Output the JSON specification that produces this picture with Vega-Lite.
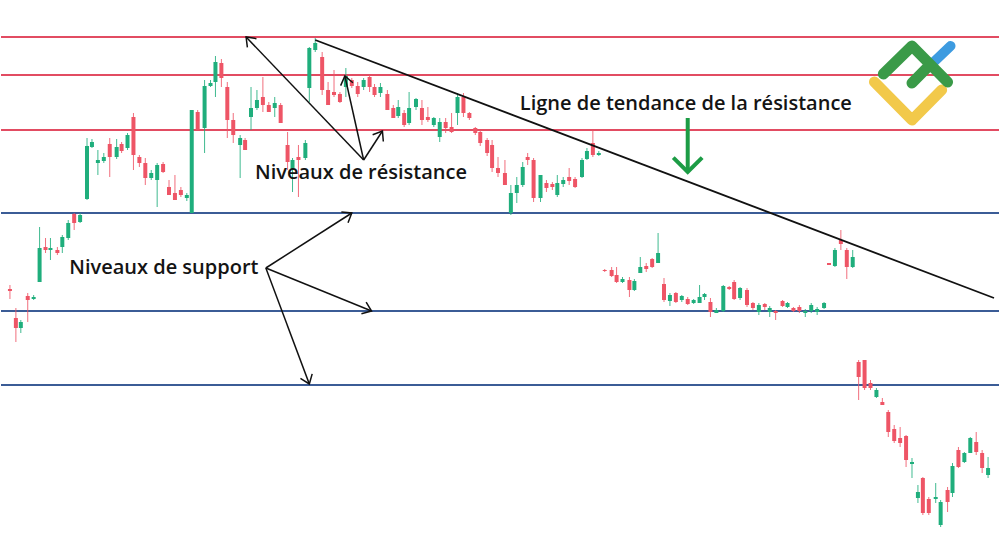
{
  "$schema": "https://vega.github.io/schema/vega-lite/v6.json",
  "width": 1000,
  "height": 536,
  "autosize": {"type": "fit", "contains": "padding"},
  "padding": 0,
  "background": "white",
  "config": {"view": {"stroke": null}},
  "resolve": {"scale": {"color": "independent"}},
  "datasets": {
    "candles": [
      {"t":4,"wt":285,"wb":299,"bt":289,"bb":291,"dir":"d"},
      {"t":10,"wt":308,"wb":342,"bt":318,"bb":328,"dir":"d"},
      {"t":15,"wt":320,"wb":333,"bt":322,"bb":328,"dir":"u"},
      {"t":22,"wt":293,"wb":322,"bt":296,"bb":300,"dir":"d"},
      {"t":28,"wt":295,"wb":300,"bt":297,"bb":299,"dir":"u"},
      {"t":34,"wt":227,"wb":282,"bt":248,"bb":282,"dir":"u"},
      {"t":40,"wt":238,"wb":253,"bt":247,"bb":250,"dir":"d"},
      {"t":45,"wt":238,"wb":260,"bt":248,"bb":250,"dir":"u"},
      {"t":52,"wt":247,"wb":255,"bt":250,"bb":253,"dir":"d"},
      {"t":57,"wt":235,"wb":253,"bt":237,"bb":247,"dir":"u"},
      {"t":63,"wt":220,"wb":240,"bt":223,"bb":238,"dir":"u"},
      {"t":69,"wt":213,"wb":230,"bt":214,"bb":223,"dir":"d"},
      {"t":75,"wt":213,"wb":223,"bt":215,"bb":222,"dir":"u"},
      {"t":82,"wt":138,"wb":200,"bt":146,"bb":199,"dir":"u"},
      {"t":87,"wt":139,"wb":148,"bt":142,"bb":147,"dir":"u"},
      {"t":93,"wt":150,"wb":175,"bt":160,"bb":163,"dir":"u"},
      {"t":99,"wt":153,"wb":163,"bt":157,"bb":161,"dir":"u"},
      {"t":105,"wt":138,"wb":177,"bt":144,"bb":157,"dir":"d"},
      {"t":112,"wt":139,"wb":159,"bt":147,"bb":157,"dir":"u"},
      {"t":117,"wt":142,"wb":153,"bt":144,"bb":151,"dir":"d"},
      {"t":123,"wt":133,"wb":150,"bt":135,"bb":148,"dir":"u"},
      {"t":129,"wt":113,"wb":170,"bt":117,"bb":155,"dir":"d"},
      {"t":135,"wt":155,"wb":167,"bt":157,"bb":163,"dir":"d"},
      {"t":141,"wt":158,"wb":185,"bt":163,"bb":178,"dir":"d"},
      {"t":147,"wt":170,"wb":180,"bt":173,"bb":178,"dir":"u"},
      {"t":153,"wt":163,"wb":207,"bt":165,"bb":180,"dir":"u"},
      {"t":159,"wt":162,"wb":173,"bt":164,"bb":172,"dir":"d"},
      {"t":165,"wt":180,"wb":195,"bt":187,"bb":195,"dir":"d"},
      {"t":171,"wt":175,"wb":200,"bt":193,"bb":200,"dir":"d"},
      {"t":177,"wt":187,"wb":197,"bt":190,"bb":195,"dir":"d"},
      {"t":183,"wt":193,"wb":201,"bt":195,"bb":198,"dir":"u"},
      {"t":188,"wt":110,"wb":213,"bt":110,"bb":213,"dir":"u"},
      {"t":194,"wt":110,"wb":130,"bt":112,"bb":130,"dir":"d"},
      {"t":201,"wt":80,"wb":153,"bt":86,"bb":128,"dir":"u"},
      {"t":207,"wt":80,"wb":87,"bt":83,"bb":86,"dir":"u"},
      {"t":212,"wt":56,"wb":97,"bt":62,"bb":82,"dir":"u"},
      {"t":218,"wt":59,"wb":87,"bt":63,"bb":78,"dir":"d"},
      {"t":224,"wt":82,"wb":138,"bt":87,"bb":120,"dir":"d"},
      {"t":230,"wt":113,"wb":143,"bt":120,"bb":135,"dir":"d"},
      {"t":237,"wt":135,"wb":178,"bt":138,"bb":145,"dir":"u"},
      {"t":242,"wt":138,"wb":150,"bt":140,"bb":150,"dir":"d"},
      {"t":248,"wt":87,"wb":130,"bt":108,"bb":117,"dir":"u"},
      {"t":254,"wt":90,"wb":110,"bt":100,"bb":108,"dir":"u"},
      {"t":260,"wt":77,"wb":112,"bt":97,"bb":105,"dir":"d"},
      {"t":266,"wt":102,"wb":112,"bt":105,"bb":112,"dir":"d"},
      {"t":272,"wt":97,"wb":117,"bt":103,"bb":108,"dir":"u"},
      {"t":278,"wt":103,"wb":123,"bt":105,"bb":123,"dir":"d"},
      {"t":285,"wt":132,"wb":170,"bt":145,"bb":162,"dir":"d"},
      {"t":290,"wt":158,"wb":192,"bt":160,"bb":170,"dir":"u"},
      {"t":296,"wt":145,"wb":197,"bt":157,"bb":160,"dir":"d"},
      {"t":303,"wt":140,"wb":160,"bt":143,"bb":158,"dir":"u"},
      {"t":307,"wt":47,"wb":102,"bt":48,"bb":88,"dir":"u"},
      {"t":313,"wt":38,"wb":52,"bt":43,"bb":50,"dir":"u"},
      {"t":320,"wt":52,"wb":95,"bt":57,"bb":90,"dir":"d"},
      {"t":326,"wt":82,"wb":105,"bt":90,"bb":105,"dir":"d"},
      {"t":332,"wt":70,"wb":97,"bt":92,"bb":95,"dir":"d"},
      {"t":338,"wt":92,"wb":103,"bt":94,"bb":102,"dir":"d"},
      {"t":344,"wt":68,"wb":97,"bt":76,"bb":87,"dir":"u"},
      {"t":350,"wt":78,"wb":88,"bt":80,"bb":86,"dir":"d"},
      {"t":356,"wt":82,"wb":97,"bt":86,"bb":94,"dir":"d"},
      {"t":362,"wt":78,"wb":90,"bt":80,"bb":87,"dir":"u"},
      {"t":368,"wt":75,"wb":92,"bt":77,"bb":87,"dir":"d"},
      {"t":373,"wt":84,"wb":97,"bt":87,"bb":95,"dir":"d"},
      {"t":379,"wt":83,"wb":97,"bt":87,"bb":93,"dir":"u"},
      {"t":386,"wt":90,"wb":110,"bt":94,"bb":110,"dir":"d"},
      {"t":392,"wt":105,"wb":118,"bt":108,"bb":118,"dir":"d"},
      {"t":397,"wt":100,"wb":118,"bt":107,"bb":116,"dir":"u"},
      {"t":403,"wt":110,"wb":127,"bt":113,"bb":125,"dir":"d"},
      {"t":408,"wt":92,"wb":125,"bt":108,"bb":123,"dir":"u"},
      {"t":415,"wt":98,"wb":110,"bt":99,"bb":107,"dir":"u"},
      {"t":421,"wt":100,"wb":125,"bt":108,"bb":120,"dir":"d"},
      {"t":427,"wt":107,"wb":122,"bt":117,"bb":120,"dir":"d"},
      {"t":433,"wt":117,"wb":127,"bt":118,"bb":125,"dir":"u"},
      {"t":439,"wt":118,"wb":142,"bt":122,"bb":137,"dir":"u"},
      {"t":445,"wt":118,"wb":133,"bt":122,"bb":128,"dir":"d"},
      {"t":451,"wt":113,"wb":133,"bt":127,"bb":132,"dir":"d"},
      {"t":457,"wt":93,"wb":125,"bt":97,"bb":113,"dir":"u"},
      {"t":463,"wt":93,"wb":117,"bt":97,"bb":113,"dir":"d"},
      {"t":469,"wt":112,"wb":120,"bt":113,"bb":118,"dir":"d"},
      {"t":475,"wt":127,"wb":135,"bt":128,"bb":133,"dir":"d"},
      {"t":480,"wt":130,"wb":146,"bt":132,"bb":143,"dir":"d"},
      {"t":487,"wt":138,"wb":156,"bt":140,"bb":153,"dir":"d"},
      {"t":492,"wt":140,"wb":172,"bt":145,"bb":168,"dir":"d"},
      {"t":498,"wt":157,"wb":177,"bt":168,"bb":173,"dir":"d"},
      {"t":505,"wt":160,"wb":185,"bt":173,"bb":185,"dir":"d"},
      {"t":511,"wt":185,"wb":215,"bt":193,"bb":213,"dir":"u"},
      {"t":517,"wt":177,"wb":203,"bt":185,"bb":193,"dir":"u"},
      {"t":523,"wt":162,"wb":187,"bt":167,"bb":185,"dir":"u"},
      {"t":528,"wt":153,"wb":165,"bt":157,"bb":160,"dir":"d"},
      {"t":534,"wt":158,"wb":202,"bt":160,"bb":198,"dir":"d"},
      {"t":541,"wt":175,"wb":202,"bt":175,"bb":198,"dir":"u"},
      {"t":547,"wt":180,"wb":192,"bt":183,"bb":188,"dir":"d"},
      {"t":553,"wt":182,"wb":190,"bt":184,"bb":187,"dir":"d"},
      {"t":558,"wt":175,"wb":197,"bt":183,"bb":195,"dir":"u"},
      {"t":564,"wt":177,"wb":187,"bt":180,"bb":184,"dir":"u"},
      {"t":570,"wt":168,"wb":185,"bt":177,"bb":181,"dir":"d"},
      {"t":576,"wt":177,"wb":188,"bt":179,"bb":187,"dir":"d"},
      {"t":583,"wt":158,"wb":178,"bt":160,"bb":177,"dir":"u"},
      {"t":588,"wt":148,"wb":160,"bt":151,"bb":159,"dir":"u"},
      {"t":594,"wt":130,"wb":157,"bt":143,"bb":155,"dir":"d"},
      {"t":600,"wt":151,"wb":156,"bt":153,"bb":155,"dir":"u"},
      {"t":606,"wt":269,"wb":272,"bt":270,"bb":271,"dir":"d"},
      {"t":613,"wt":267,"wb":277,"bt":270,"bb":276,"dir":"d"},
      {"t":618,"wt":267,"wb":283,"bt":275,"bb":282,"dir":"d"},
      {"t":624,"wt":277,"wb":283,"bt":279,"bb":282,"dir":"u"},
      {"t":631,"wt":277,"wb":297,"bt":280,"bb":290,"dir":"d"},
      {"t":636,"wt":279,"wb":291,"bt":281,"bb":290,"dir":"u"},
      {"t":642,"wt":257,"wb":273,"bt":267,"bb":273,"dir":"u"},
      {"t":648,"wt":263,"wb":272,"bt":266,"bb":269,"dir":"d"},
      {"t":654,"wt":258,"wb":268,"bt":259,"bb":267,"dir":"d"},
      {"t":660,"wt":233,"wb":263,"bt":253,"bb":263,"dir":"u"},
      {"t":666,"wt":278,"wb":302,"bt":284,"bb":300,"dir":"d"},
      {"t":672,"wt":293,"wb":306,"bt":295,"bb":301,"dir":"u"},
      {"t":678,"wt":292,"wb":303,"bt":293,"bb":302,"dir":"d"},
      {"t":684,"wt":295,"wb":302,"bt":296,"bb":300,"dir":"u"},
      {"t":690,"wt":297,"wb":305,"bt":299,"bb":304,"dir":"d"},
      {"t":696,"wt":299,"wb":304,"bt":300,"bb":303,"dir":"u"},
      {"t":702,"wt":285,"wb":303,"bt":297,"bb":303,"dir":"u"},
      {"t":707,"wt":293,"wb":300,"bt":294,"bb":297,"dir":"u"},
      {"t":713,"wt":298,"wb":317,"bt":302,"bb":312,"dir":"d"},
      {"t":719,"wt":308,"wb":313,"bt":310,"bb":313,"dir":"u"},
      {"t":726,"wt":285,"wb":312,"bt":286,"bb":311,"dir":"u"},
      {"t":732,"wt":286,"wb":290,"bt":287,"bb":289,"dir":"d"},
      {"t":737,"wt":280,"wb":300,"bt":282,"bb":299,"dir":"d"},
      {"t":743,"wt":287,"wb":300,"bt":288,"bb":298,"dir":"u"},
      {"t":750,"wt":288,"wb":307,"bt":290,"bb":305,"dir":"d"},
      {"t":756,"wt":302,"wb":310,"bt":303,"bb":308,"dir":"d"},
      {"t":762,"wt":303,"wb":315,"bt":305,"bb":312,"dir":"u"},
      {"t":768,"wt":303,"wb":310,"bt":304,"bb":307,"dir":"d"},
      {"t":773,"wt":306,"wb":317,"bt":308,"bb":312,"dir":"u"},
      {"t":779,"wt":310,"wb":320,"bt":311,"bb":313,"dir":"d"},
      {"t":786,"wt":300,"wb":307,"bt":301,"bb":306,"dir":"d"},
      {"t":791,"wt":302,"wb":308,"bt":303,"bb":307,"dir":"u"},
      {"t":797,"wt":307,"wb":312,"bt":308,"bb":311,"dir":"d"},
      {"t":803,"wt":305,"wb":313,"bt":307,"bb":311,"dir":"d"},
      {"t":809,"wt":309,"wb":317,"bt":311,"bb":313,"dir":"u"},
      {"t":815,"wt":303,"wb":313,"bt":305,"bb":311,"dir":"u"},
      {"t":821,"wt":307,"wb":315,"bt":309,"bb":312,"dir":"u"},
      {"t":828,"wt":302,"wb":309,"bt":303,"bb":308,"dir":"u"},
      {"t":833,"wt":263,"wb":265,"bt":263,"bb":265,"dir":"d"},
      {"t":839,"wt":248,"wb":267,"bt":250,"bb":266,"dir":"u"},
      {"t":845,"wt":230,"wb":250,"bt":240,"bb":244,"dir":"d"},
      {"t":851,"wt":248,"wb":279,"bt":250,"bb":267,"dir":"d"},
      {"t":857,"wt":250,"wb":268,"bt":257,"bb":267,"dir":"u"},
      {"t":863,"wt":360,"wb":400,"bt":362,"bb":377,"dir":"d"},
      {"t":869,"wt":360,"wb":390,"bt":360,"bb":388,"dir":"d"},
      {"t":875,"wt":380,"wb":390,"bt":383,"bb":388,"dir":"d"},
      {"t":881,"wt":388,"wb":398,"bt":390,"bb":397,"dir":"u"},
      {"t":887,"wt":398,"wb":405,"bt":402,"bb":405,"dir":"d"},
      {"t":893,"wt":410,"wb":437,"bt":412,"bb":432,"dir":"d"},
      {"t":899,"wt":425,"wb":443,"bt":429,"bb":441,"dir":"d"},
      {"t":905,"wt":427,"wb":447,"bt":438,"bb":443,"dir":"d"},
      {"t":911,"wt":435,"wb":467,"bt":436,"bb":460,"dir":"d"},
      {"t":917,"wt":458,"wb":478,"bt":462,"bb":464,"dir":"u"},
      {"t":923,"wt":485,"wb":503,"bt":492,"bb":498,"dir":"u"},
      {"t":928,"wt":477,"wb":515,"bt":478,"bb":513,"dir":"d"},
      {"t":934,"wt":497,"wb":515,"bt":499,"bb":513,"dir":"d"},
      {"t":941,"wt":483,"wb":503,"bt":497,"bb":499,"dir":"u"},
      {"t":946,"wt":500,"wb":527,"bt":502,"bb":525,"dir":"u"},
      {"t":953,"wt":487,"wb":512,"bt":490,"bb":502,"dir":"d"},
      {"t":958,"wt":463,"wb":497,"bt":466,"bb":493,"dir":"u"},
      {"t":964,"wt":447,"wb":468,"bt":450,"bb":467,"dir":"d"},
      {"t":970,"wt":452,"wb":463,"bt":453,"bb":462,"dir":"u"},
      {"t":976,"wt":437,"wb":453,"bt":438,"bb":453,"dir":"u"},
      {"t":982,"wt":432,"wb":455,"bt":442,"bb":452,"dir":"d"},
      {"t":988,"wt":450,"wb":473,"bt":453,"bb":468,"dir":"d"},
      {"t":994,"wt":457,"wb":478,"bt":468,"bb":475,"dir":"u"}
    ],
    "levels": [
      {"level": 37, "kind": "resistance"},
      {"level": 75, "kind": "resistance"},
      {"level": 130, "kind": "resistance"},
      {"level": 213, "kind": "support"},
      {"level": 311, "kind": "support"},
      {"level": 385, "kind": "support"}
    ],
    "trend": [{"x": 313, "y": 40, "x2": 1000, "y2": 298}],
    "arrows": [
      {"x": 362, "y": 160, "x2": 243, "y2": 37, "a": -44},
      {"x": 362, "y": 160, "x2": 343, "y2": 76, "a": -13},
      {"x": 362, "y": 160, "x2": 381, "y2": 131, "a": 32},
      {"x": 263, "y": 268, "x2": 350, "y2": 213, "a": 58},
      {"x": 263, "y": 268, "x2": 370, "y2": 311, "a": 112},
      {"x": 263, "y": 268, "x2": 307, "y2": 384, "a": 159}
    ],
    "greenArrow": [{"x": 690, "y": 118, "x2": 690, "y2": 172, "a": 180}],
    "labels": [
      {"x": 520, "y": 104, "text": "Ligne de tendance de la résistance"},
      {"x": 252, "y": 173, "text": "Niveaux de résistance"},
      {"x": 64, "y": 268, "text": "Niveaux de support"}
    ],
    "logo": [
      {"part": "yellow", "ord": 1, "x": 879, "y": 82},
      {"part": "yellow", "ord": 2, "x": 917, "y": 120},
      {"part": "yellow", "ord": 3, "x": 947, "y": 90},
      {"part": "blue", "ord": 1, "x": 938, "y": 63},
      {"part": "blue", "ord": 2, "x": 956, "y": 46},
      {"part": "green1", "ord": 1, "x": 888, "y": 74},
      {"part": "green1", "ord": 2, "x": 917, "y": 46},
      {"part": "green1", "ord": 3, "x": 953, "y": 82},
      {"part": "green2", "ord": 1, "x": 917, "y": 83},
      {"part": "green2", "ord": 2, "x": 935, "y": 65}
    ]
  },
  "layer": [
    {
      "data": {"name": "levels"},
      "mark": {"type": "rule", "strokeWidth": 2},
      "encoding": {
        "y": {"field": "level", "type": "quantitative", "scale": {"domain": [0, 536], "reverse": true, "nice": false, "zero": false}, "axis": null},
        "color": {"field": "kind", "type": "nominal", "scale": {"domain": ["resistance", "support"], "range": ["#e24c62", "#3b5c96"]}, "legend": null}
      }
    },
    {
      "data": {"name": "candles"},
      "layer": [
        {
          "mark": {"type": "rule", "strokeWidth": 1, "opacity": 0.85},
          "encoding": {
            "y": {"field": "wt", "type": "quantitative", "scale": {"domain": [0, 536], "reverse": true, "nice": false, "zero": false}, "axis": null},
            "y2": {"field": "wb"}
          }
        },
        {
          "mark": {"type": "bar", "size": 4},
          "encoding": {
            "y": {"field": "bt", "type": "quantitative", "scale": {"domain": [0, 536], "reverse": true, "nice": false, "zero": false}, "axis": null},
            "y2": {"field": "bb"}
          }
        }
      ],
      "encoding": {
        "x": {"field": "t", "type": "quantitative", "scale": {"domain": [0, 1000], "nice": false, "zero": false}, "axis": null},
        "color": {"field": "dir", "type": "nominal", "scale": {"domain": ["u", "d"], "range": ["#1fae7c", "#ee5566"]}, "legend": null}
      }
    },
    {
      "data": {"name": "trend"},
      "mark": {"type": "rule", "strokeWidth": 1.8, "color": "#111111"},
      "encoding": {
        "x": {"field": "x", "type": "quantitative", "scale": {"domain": [0, 1000], "nice": false, "zero": false}, "axis": null},
        "y": {"field": "y", "type": "quantitative", "scale": {"domain": [0, 536], "reverse": true, "nice": false, "zero": false}, "axis": null},
        "x2": {"field": "x2"},
        "y2": {"field": "y2"}
      }
    },
    {
      "data": {"name": "arrows"},
      "mark": {"type": "rule", "strokeWidth": 1.5, "color": "#111111"},
      "encoding": {
        "x": {"field": "x", "type": "quantitative", "scale": {"domain": [0, 1000], "nice": false, "zero": false}, "axis": null},
        "y": {"field": "y", "type": "quantitative", "scale": {"domain": [0, 536], "reverse": true, "nice": false, "zero": false}, "axis": null},
        "x2": {"field": "x2"},
        "y2": {"field": "y2"}
      }
    },
    {
      "data": {"name": "arrows"},
      "mark": {"type": "point", "shape": "M-0.6,0.8L0,0L0.6,0.8", "filled": false, "size": 440, "strokeWidth": 1.5, "color": "#111111", "opacity": 1},
      "encoding": {
        "x": {"field": "x2", "type": "quantitative", "scale": {"domain": [0, 1000], "nice": false, "zero": false}, "axis": null},
        "y": {"field": "y2", "type": "quantitative", "scale": {"domain": [0, 536], "reverse": true, "nice": false, "zero": false}, "axis": null},
        "angle": {"field": "a", "type": "quantitative", "scale": null}
      }
    },
    {
      "data": {"name": "greenArrow"},
      "mark": {"type": "rule", "strokeWidth": 4, "color": "#1c9c45"},
      "encoding": {
        "x": {"field": "x", "type": "quantitative", "scale": {"domain": [0, 1000], "nice": false, "zero": false}, "axis": null},
        "y": {"field": "y", "type": "quantitative", "scale": {"domain": [0, 536], "reverse": true, "nice": false, "zero": false}, "axis": null},
        "x2": {"field": "x2"},
        "y2": {"field": "y2"}
      }
    },
    {
      "data": {"name": "greenArrow"},
      "mark": {"type": "point", "shape": "M-0.7,0.7L0,0L0.7,0.7", "filled": false, "size": 1700, "strokeWidth": 4, "color": "#1c9c45", "opacity": 1},
      "encoding": {
        "x": {"field": "x2", "type": "quantitative", "scale": {"domain": [0, 1000], "nice": false, "zero": false}, "axis": null},
        "y": {"field": "y2", "type": "quantitative", "scale": {"domain": [0, 536], "reverse": true, "nice": false, "zero": false}, "axis": null},
        "angle": {"field": "a", "type": "quantitative", "scale": null}
      }
    },
    {
      "data": {"name": "labels"},
      "mark": {"type": "text", "align": "left", "baseline": "middle", "font": "Open Sans", "fontSize": 20, "fontWeight": 600, "color": "#141414"},
      "encoding": {
        "x": {"field": "x", "type": "quantitative", "scale": {"domain": [0, 1000], "nice": false, "zero": false}, "axis": null},
        "y": {"field": "y", "type": "quantitative", "scale": {"domain": [0, 536], "reverse": true, "nice": false, "zero": false}, "axis": null},
        "text": {"field": "text", "type": "nominal"}
      }
    },
    {
      "data": {"name": "logo"},
      "transform": [{"filter": "datum.part === 'yellow'"}],
      "mark": {"type": "line", "strokeWidth": 11, "strokeCap": "round", "strokeJoin": "round", "color": "#f2c94a"},
      "encoding": {
        "x": {"field": "x", "type": "quantitative", "scale": {"domain": [0, 1000], "nice": false, "zero": false}, "axis": null},
        "y": {"field": "y", "type": "quantitative", "scale": {"domain": [0, 536], "reverse": true, "nice": false, "zero": false}, "axis": null},
        "order": {"field": "ord", "type": "quantitative"}
      }
    },
    {
      "data": {"name": "logo"},
      "transform": [{"filter": "datum.part === 'blue'"}],
      "mark": {"type": "line", "strokeWidth": 10, "strokeCap": "round", "strokeJoin": "round", "color": "#3d9be0"},
      "encoding": {
        "x": {"field": "x", "type": "quantitative", "scale": {"domain": [0, 1000], "nice": false, "zero": false}, "axis": null},
        "y": {"field": "y", "type": "quantitative", "scale": {"domain": [0, 536], "reverse": true, "nice": false, "zero": false}, "axis": null},
        "order": {"field": "ord", "type": "quantitative"}
      }
    },
    {
      "data": {"name": "logo"},
      "transform": [{"filter": "datum.part === 'green1' || datum.part === 'green2'"}],
      "mark": {"type": "line", "strokeWidth": 11, "strokeCap": "round", "strokeJoin": "round", "color": "#3a9a48"},
      "encoding": {
        "x": {"field": "x", "type": "quantitative", "scale": {"domain": [0, 1000], "nice": false, "zero": false}, "axis": null},
        "y": {"field": "y", "type": "quantitative", "scale": {"domain": [0, 536], "reverse": true, "nice": false, "zero": false}, "axis": null},
        "detail": {"field": "part", "type": "nominal"},
        "order": {"field": "ord", "type": "quantitative"}
      }
    }
  ]
}
